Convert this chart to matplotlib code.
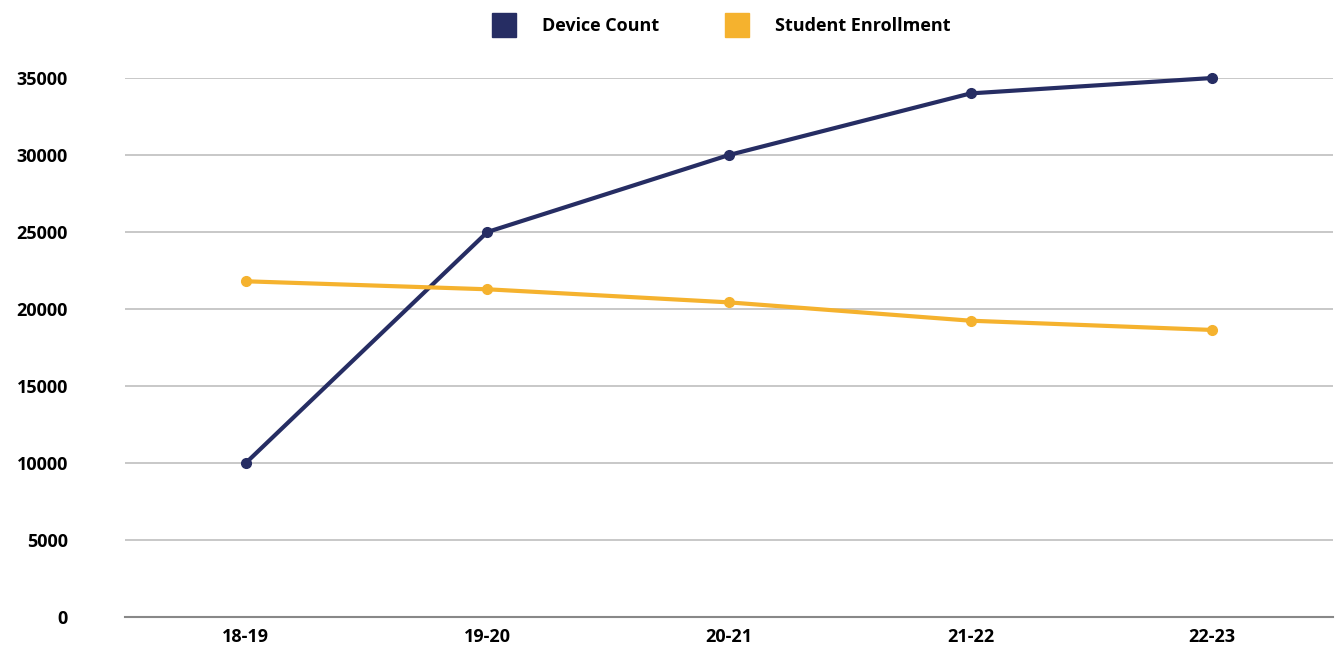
import matplotlib
matplotlib.use("Agg")
import matplotlib.pyplot as plt
from matplotlib.lines import Line2D

categories = ["18-19", "19-20", "20-21", "21-22", "22-23"]
device_count = [10000, 25000, 30000, 34000, 35000]
student_enrollment = [21800, 21280, 20430, 19240, 18640]
yticks = [0, 5000, 10000, 15000, 20000, 25000, 30000, 35000]

navy = "#262D63"
gold = "#F5B22E"

plt.rcParams["font.family"] = ["Open Sans", "DejaVu Sans"]
plt.rcParams["font.weight"] = "bold"
plt.rcParams["font.stretch"] = "normal"

fig = plt.figure(figsize=(13.39, 6.46), dpi=100)
ax = fig.add_axes([125/1339, 29/646, 1208/1339, (617-78)/646])

x = list(range(len(categories)))
ax.plot(x, device_count, color=navy, lw=3, marker="o", ms=7, zorder=3,
        solid_capstyle="round", clip_on=False)
ax.plot(x, student_enrollment, color=gold, lw=3, marker="o", ms=7, zorder=3,
        solid_capstyle="round", clip_on=False)

fs = 13
ax.set_xlim(-0.5, 4.5)
ax.set_ylim(0, 35000)
ax.set_xticks(x)
ax.set_xticklabels(categories, fontsize=fs, fontweight="bold")
ax.set_yticks(yticks)
ax.set_yticklabels([str(v) for v in yticks], fontsize=fs, fontweight="bold")
ax.tick_params(axis="both", length=0)
ax.tick_params(axis="y", pad=41)
ax.tick_params(axis="x", pad=8)
ax.yaxis.grid(True, color="#C4C4C4", lw=1.3)
ax.set_axisbelow(True)
for s in ["top", "right", "left"]:
    ax.spines[s].set_visible(False)
ax.spines["bottom"].set_color("#888888")
ax.spines["bottom"].set_linewidth(1.5)
ax.spines["bottom"].set_zorder(2)

handles = [Line2D([], [], ls="none", marker="s", ms=17, color=navy),
           Line2D([], [], ls="none", marker="s", ms=17, color=gold)]
fig.legend(handles, ["Device Count", "Student Enrollment"], loc="center",
           bbox_to_anchor=(718/1339, 1 - 26/646), ncol=2, frameon=False,
           prop={"size": fs, "weight": "bold"}, columnspacing=3.3, handletextpad=1.1)

fig.savefig("out.png", dpi=100)
